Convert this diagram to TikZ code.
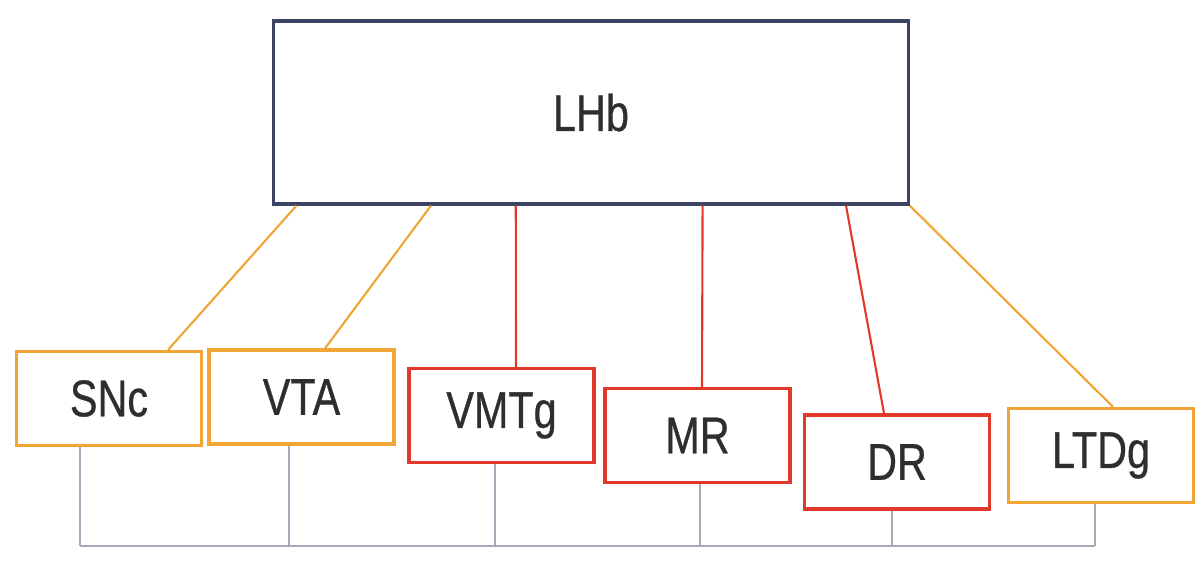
\documentclass[tikz,border=0pt]{standalone}
\usepackage{fontspec}
\setmainfont{Liberation Sans}[FakeStretch=0.8, FakeBold=0.6]
\usetikzlibrary{calc}
\definecolor{hubblue}{HTML}{3B4563}
\definecolor{amine}{HTML}{F0A534}
\definecolor{sero}{HTML}{E0392B}
\definecolor{busgray}{HTML}{ABA6B8}
\definecolor{inkgray}{HTML}{2E2E2E}
\tikzset{
  nucleus/.style={draw, line width=0.9pt, fill=white, minimum width=1.85cm, minimum height=0.94cm,
    inner sep=0pt, text=inkgray, font=\fontsize{14.7}{18}\selectfont},
  dopa/.style={nucleus, draw=amine},
  sht/.style={nucleus, draw=sero},
  busline/.style={draw=busgray, line width=0.45pt}
}
\begin{document}
\begin{tikzpicture}[x=0.01cm, y=-0.01cm]
    \useasboundingbox (0,0) rectangle (1204,582);

    % Habenula and its targets
    \node[nucleus, draw=hubblue, minimum width=6.34cm, minimum height=1.83cm] (LHb) at (591,112.5) {\raisebox{-1.2pt}{LHb}};
    \node[dopa] (SNc)  at (109,398.5)  {SNc};
    \node[dopa] (VTA)  at (301.5,397)  {VTA};
    \node[sht]  (VMTg) at (501.5,415.5) {VMTg};
    \node[sht]  (MR)   at (697.5,435.5) {MR};
    \node[sht]  (DR)   at (897,462)    {DR};
    \node[dopa] (LTDg) at (1101,455.5) {LTDg};

    % Projections from LHb
    \draw[amine, line width=0.6pt] ($(LHb.south west)!0.038!(LHb.south east)$) -- ($(SNc.north)+(59,0)$);
    \draw[amine, line width=0.6pt] ($(LHb.south west)!0.249!(LHb.south east)$) -- ($(VTA.north)+(23.5,0)$);
    \draw[sero, line width=0.6pt] ($(LHb.south west)!0.382!(LHb.south east)$) -- ($(VMTg.north)+(14.5,0)$);
    \draw[sero, line width=0.6pt] ($(LHb.south west)!0.675!(LHb.south east)$) -- ($(MR.north)+(4.5,0)$);
    \draw[sero, line width=0.6pt] ($(LHb.south west)!0.9!(LHb.south east)$) -- ($(DR.north)+(-13,0)$);
    \draw[amine, line width=0.6pt] (LHb.south east) -- ($(LTDg.north)+(12,0)$);

    % Common bus below
    \coordinate (bus) at (0,546);
    \foreach \n/\dx in {SNc/-29, VTA/-12.5, VMTg/-6.5, MR/2.5, DR/-5, LTDg/-6}
        \draw[busline] ($(\n.south)+(\dx,0)$) coordinate (t\n) -- (t\n |- bus);
    \draw[busline] (tSNc |- bus) -- (tLTDg |- bus);
\end{tikzpicture}
\end{document}
